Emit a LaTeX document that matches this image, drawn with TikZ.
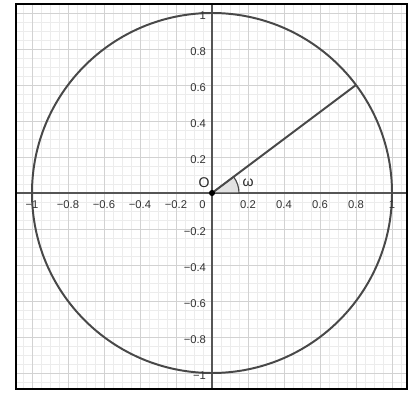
\documentclass[tikz,border=0pt]{standalone}
\usepackage{fontspec}
\setmainfont{Liberation Sans}
\definecolor{gridMinor}{RGB}{236,236,236}
\definecolor{gridMajor}{RGB}{210,210,210}
\definecolor{axisGray}{RGB}{85,85,85}
\definecolor{curveGray}{RGB}{72,72,72}
\definecolor{angleFill}{RGB}{226,226,226}
\tikzset{
  minorgrid/.style={draw=gridMinor, line width=0.4pt},
  majorgrid/.style={draw=gridMajor, line width=0.7pt},
  axisline/.style={draw=axisGray, line width=0.8pt},
  curve/.style={draw=curveGray, line width=1.4pt},
  anglemark/.style={draw=curveGray, fill=angleFill, line width=0.8pt},
  ticklab/.style={inner sep=0pt, font=\fontsize{8}{9}\selectfont, text=black!80},
  pointlab/.style={inner sep=0pt, font=\fontsize{10}{11}\selectfont, text=black!85},
  frame/.style={draw=black, line width=1.4pt}
}

\begin{document}
\begin{tikzpicture}[x=4.5cm,y=4.5cm]
  \useasboundingbox[fill=white] (-1.1778,-1.1056) rectangle (1.1333,1.0722);

  % Grid inside the frame
  \begin{scope}
    \clip (-1.0889,-1.0889) rectangle (1.0833,1.05);
    \draw[minorgrid, step=0.05] (-1.2,-1.2) grid (1.2,1.2);
    \draw[majorgrid, step=0.2] (-1.2,-1.2) grid (1.2,1.2);
    \draw[axisline] (-1.2,0) -- (1.2,0);
    \draw[axisline] (0,-1.2) -- (0,1.2);
  \end{scope}

  % Points
  \coordinate (O) at (0,0);
  \coordinate (P) at (0.8,0.6);

  % Unit circle, angle and radius
  \draw[curve] (O) circle[radius=1];
  \draw[anglemark] (O) -- ++(0.15,0) arc[start angle=0, end angle=36.87, radius=0.15] -- cycle;
  \draw[curve] (O) -- (P);
  \fill[black] (O) circle[radius=0.017];

  % Tick labels
  \foreach \v/\t [count=\i] in {-1/−1,-0.8/−0.8,-0.6/−0.6,-0.4/−0.4,-0.2/−0.2,0.2/0.2,0.4/0.4,0.6/0.6,0.8/0.8,1/1}
    \node[ticklab] (xtick\i) at (\v,-0.062) {\t};
  \node[ticklab] (xtick0) at (-0.053,-0.062) {0};
  \foreach \v/\t [count=\i] in {1/1,0.8/0.8,0.6/0.6,0.4/0.4,0.2/0.2,-0.2/−0.2,-0.4/−0.4,-0.6/−0.6,-0.8/−0.8,-1/−1}
    \node[ticklab, anchor=east] (ytick\i) at (-0.032,\v-0.012) {\t};

  \node[pointlab] (olab) at (-0.044,0.056) {O};
  \node[pointlab] (wlab) at (0.20,0.058) {ω};

  \draw[frame] (-1.0889,-1.0889) rectangle (1.0833,1.05);
\end{tikzpicture}
\end{document}
